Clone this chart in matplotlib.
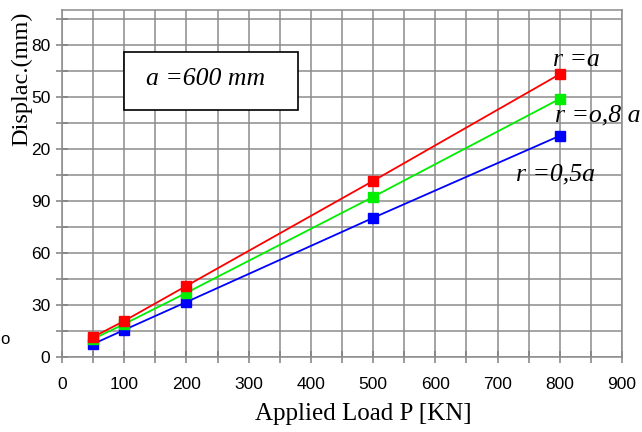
import matplotlib.pyplot as plt
from matplotlib.patches import Rectangle
from matplotlib.ticker import MultipleLocator, FixedLocator

loads = [50, 100, 200, 500, 800]
disp_r_a = [11.5, 20.8, 41.0, 101.5, 163.0]
disp_r_08a = [10.4, 19.0, 37.0, 92.3, 148.8]
disp_r_05a = [7.5, 15.6, 31.7, 80.2, 127.5]

x_ticks = [0, 100, 200, 300, 400, 500, 600, 700, 800, 900]
y_ticks = [0, 30, 60, 90, 120, 150, 180]
y_tick_labels = ["0", "30", "60", "90", "20", "50", "80"]

serif = "Liberation Serif"
sans = "Liberation Sans"

fig = plt.figure(figsize=(6.42, 4.32), dpi=100)
ax = fig.add_axes([62 / 642, 75 / 432, 560 / 642, 347 / 432])

ax.set_xlim(0, 900)
ax.set_ylim(0, 200)
ax.xaxis.set_major_locator(FixedLocator(x_ticks))
ax.xaxis.set_minor_locator(MultipleLocator(50))
ax.yaxis.set_major_locator(FixedLocator(y_ticks))
ax.yaxis.set_minor_locator(MultipleLocator(15))
ax.set_yticklabels(y_tick_labels)
ax.grid(True, which="both", color="#8c8c8c", linewidth=1.1)
ax.set_axisbelow(True)
ax.tick_params(which="both", direction="inout", length=9, color="#808080",
               width=1.1, labelsize=12.5)
ax.tick_params(axis="x", pad=10)
ax.tick_params(axis="y", pad=4)
for lab in ax.get_xticklabels() + ax.get_yticklabels():
    lab.set_fontfamily(sans)
for s in ax.spines.values():
    s.set_color("#8c8c8c")
    s.set_linewidth(1.1)

ax.plot(loads, disp_r_05a, color="blue", lw=1.3, marker="s", ms=7.5)
ax.plot(loads, disp_r_08a, color="#00ee00", lw=1.3, marker="s", ms=7.5)
ax.plot(loads, disp_r_a, color="red", lw=1.3, marker="s", ms=7.5)

fig.text(363 / 642, 1 - 414 / 432, "Applied Load P [KN]", fontfamily=serif,
         fontsize=18, ha="center", va="center")
fig.text(22 / 642, 1 - 79 / 432, "Displac.(mm)", rotation=90, fontfamily=serif,
         fontsize=17.5, ha="center", va="center")
fig.text(0, 1 - 340 / 432, "o", fontfamily=sans, fontsize=12, ha="left", va="center")

ax.add_patch(Rectangle((100, 142.5), 279, 33.5, fc="white", ec="black", lw=1.2,
                       zorder=3))
ax.text(231, 160, "a =600 mm", fontfamily=serif, style="italic", fontsize=18.5,
        ha="center", va="center", zorder=4)
ax.text(789, 171, "r =a", fontfamily=serif, style="italic", fontsize=18.5,
        ha="left", va="center")
ax.text(792, 139, "r =o,8 a", fontfamily=serif, style="italic", fontsize=18.5,
        ha="left", va="center")
ax.text(730, 105, "r =0,5a", fontfamily=serif, style="italic", fontsize=18.5,
        ha="left", va="center")

fig.savefig("out.png", dpi=100)
